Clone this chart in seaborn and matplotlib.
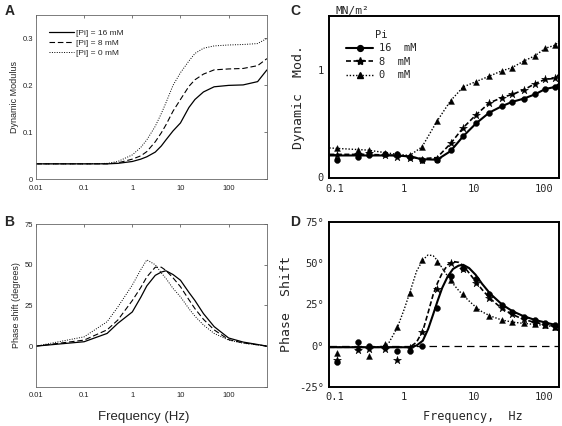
import numpy as np
import pandas as pd
import matplotlib
matplotlib.use('Agg')
import matplotlib.pyplot as plt
from matplotlib.lines import Line2D
from matplotlib.ticker import FixedLocator, LogLocator, NullFormatter, NullLocator
import seaborn as sns

sns.set_style('white')
plt.rcParams['font.family'] = ['Liberation Sans', 'DejaVu Sans']
MONO = 'DejaVu Sans Mono'

#%% datos, paneles A y B (modelo)
f_model = [0.01, 0.1, 0.3, 0.5, 1, 1.5, 2, 3, 4, 5, 7, 10, 15, 20, 30, 50, 100, 200, 400, 625]
mod_16 = [0.033, 0.033, 0.033, 0.034, 0.038, 0.043, 0.048, 0.058, 0.071, 0.084, 0.103, 0.12, 0.153, 0.17, 0.186,
          0.197, 0.2, 0.201, 0.208, 0.233]
mod_8 = [0.033, 0.033, 0.033, 0.035, 0.043, 0.05, 0.059, 0.08, 0.099, 0.116, 0.145, 0.17, 0.198, 0.212, 0.224,
         0.233, 0.235, 0.236, 0.242, 0.257]
mod_0 = [0.033, 0.033, 0.034, 0.038, 0.052, 0.068, 0.084, 0.113, 0.14, 0.163, 0.2, 0.227, 0.252, 0.268, 0.279,
         0.284, 0.286, 0.287, 0.289, 0.3]
ph_16 = [0, 2.7, 7.8, 14, 21, 30, 37, 43.5, 45.5, 46.3, 44, 40.5, 33, 28, 20, 12, 5, 2.5, 1, 0]
ph_8 = [0, 3.7, 10, 16, 28, 36, 42.5, 48.5, 48.5, 46.5, 42, 36.5, 28.5, 23, 16.5, 10, 4, 2, 0.8, 0]
ph_0 = [0, 5.7, 15, 24, 37.5, 47, 53, 50, 45, 41.6, 35.5, 30.3, 23, 18.4, 13, 7.8, 3.7, 1.8, 0.7, 0]

#%% datos, paneles C y D (experimento)
f_exp = [0.11, 0.22, 0.31, 0.53, 0.78, 1.2, 1.8, 2.95, 4.6, 7.0, 10.7, 16.5, 25, 35, 51, 74, 104, 145]
dm_16 = [0.16, 0.19, 0.2, 0.21, 0.21, 0.19, 0.16, 0.16, 0.25, 0.38, 0.5, 0.6, 0.66, 0.7, 0.73, 0.77, 0.82, 0.84]
dm_8 = [0.2, 0.21, 0.22, 0.2, 0.19, 0.18, 0.16, 0.17, 0.32, 0.46, 0.58, 0.69, 0.74, 0.77, 0.81, 0.87, 0.91, 0.92]
dm_0 = [0.27, 0.25, 0.25, 0.22, 0.21, 0.2, 0.28, 0.52, 0.71, 0.84, 0.89, 0.94, 0.99, 1.02, 1.08, 1.13, 1.2, 1.23]
ps_16 = [-10, 2, -0.5, -1, -3, -3, -0.5, 23, 42.5, 47, 40.5, 31, 24.5, 20.5, 17.5, 15.5, 13.8, 12.5]
ps_8 = [-9, -2.5, -2, -2, -9, -1.5, 8.5, 34.5, 50, 46.5, 38, 29, 23, 19, 16, 14, 12.5, 11.5]
ps_0 = [-4.5, -1, -6.5, 1, 11, 32, 52, 51, 40, 31, 22.6, 18, 15.4, 14.4, 13.6, 13, 12.3, 11.3]

# curvas ajustadas
f_cfit = [0.085, 0.3, 0.8, 1.2, 1.8, 2.95, 4.6, 7.0, 10.7, 16.5, 25, 35, 51, 74, 104, 145, 165]
cfit_16 = [0.2, 0.2, 0.2, 0.19, 0.165, 0.16, 0.24, 0.38, 0.5, 0.6, 0.66, 0.7, 0.73, 0.77, 0.82, 0.84, 0.87]
cfit_8 = [0.21, 0.21, 0.2, 0.19, 0.17, 0.18, 0.31, 0.46, 0.58, 0.69, 0.74, 0.77, 0.81, 0.87, 0.91, 0.92, 0.96]
cfit_0 = [0.27, 0.25, 0.21, 0.2, 0.28, 0.52, 0.71, 0.84, 0.89, 0.94, 0.99, 1.02, 1.08, 1.13, 1.2, 1.23, 1.27]

f_dfit = [0.085, 0.3, 0.5, 0.6, 0.8, 1.0, 1.2, 1.5, 1.85, 2.2, 2.6, 3.0, 3.5, 4.2, 5, 6, 7, 8.5, 10.5, 13, 17,
          25, 35, 50, 75, 105, 165]
dfit_16 = [-1, -1, -1, -1, -1, -1, -1, 0, 3, 10, 19, 27, 35, 42, 46.5, 48.5, 49, 47, 43, 37.5, 31.5,
           25, 21, 18, 15.5, 14, 12]
dfit_8 = [-1, -1, -1, -1, -1, -1, -1, 2, 9, 20, 31, 38, 44, 49, 51, 50.5, 48.5, 44, 39, 34, 28.5,
          22.5, 19, 16, 14, 12.8, 11]
dfit_0 = [-1, -1, -0.5, 1.5, 11, 22, 32, 45, 52, 55, 54.5, 51.5, 47, 42, 37.5, 33.5, 30.5, 27, 23.5, 20.5, 18,
          15.5, 14.3, 13.5, 12.8, 12.2, 11]

labels_ab = ['[Pi] = 16 mM', '[Pi] = 8 mM', '[Pi] = 0 mM']
labels_cd = ['16  mM', '8  mM', '0  mM']

#%%
fig = plt.figure(figsize=(5.62, 4.26), dpi=100)
axA = fig.add_axes([0.064, 0.579, 0.411, 0.386])
axB = fig.add_axes([0.064, 0.092, 0.411, 0.382])
axC = fig.add_axes([0.586, 0.581, 0.409, 0.381])
axD = fig.add_axes([0.586, 0.092, 0.409, 0.387])

ls_ab = ['-', (0, (5, 2.5)), (0, (1, 1.5))]
lw_ab = [0.9, 0.8, 0.7]

# Paneles A y B
for ax, series in [(axA, [mod_16, mod_8, mod_0]), (axB, [ph_16, ph_8, ph_0])]:
    ax.set_xscale('log')
    for vals, ls, lw, lab in zip(series, ls_ab, lw_ab, labels_ab):
        sns.lineplot(x=f_model, y=vals, ax=ax, color='k', linestyle=ls, lw=lw, label=lab)
    ax.set_xlim(0.01, 625)
    ax.xaxis.set_major_locator(FixedLocator([0.01, 0.1, 1, 10, 100]))
    ax.set_xticklabels(['0.01', '0.1', '1', '10', '100'])
    ax.xaxis.set_minor_locator(NullLocator())
    ax.tick_params(direction='in', labelsize=5.5, length=2.5, width=0.5, top=True, right=True,
                   colors='#444444', labelcolor='#222222', pad=2)
    ax.tick_params(axis='x', pad=4)
    for s in ax.spines.values():
        s.set_color('#666666')
        s.set_linewidth(0.6)

axA.set_ylim(0, 0.35)
axA.yaxis.set_major_locator(FixedLocator([0, 0.1, 0.2, 0.3]))
axA.set_yticklabels(['0', '0.1', '0.2', '0.3'])
axA.set_ylabel('Dynamic Modulus', fontsize=6.5, labelpad=3)
axA.legend(loc='upper left', bbox_to_anchor=(0.04, 0.94), frameon=False, fontsize=6,
           handlelength=3, handletextpad=0.2, labelspacing=0.25, borderpad=0)

axB.get_legend().remove()
axB.set_ylim(-25, 75)
axB.yaxis.set_major_locator(FixedLocator([-25, 0, 25, 50, 75]))
axB.set_yticklabels(['', '0', '25', '50', '75'])
axB.set_ylabel('Phase shift (degrees)', fontsize=6.5, labelpad=3)

# Paneles C y D
mk = ['o', '*', '^']
msz = [18, 36, 18]
ls_cd = ['-', (0, (3, 1.5)), (0, (1, 1.3))]
lw_cd = [1.5, 1.2, 1.0]

for ax in [axC, axD]:
    ax.set_xscale('log')

for fit, pts, m, s, ls, lw in zip([cfit_16, cfit_8, cfit_0], [dm_16, dm_8, dm_0], mk, msz, ls_cd, lw_cd):
    sns.lineplot(x=f_cfit, y=fit, ax=axC, color='k', linestyle=ls, lw=lw)
    sns.scatterplot(x=f_exp, y=pts, ax=axC, marker=m, s=s, color='k', edgecolor='k', linewidth=0.3, zorder=3)

axD.axhline(0, color='k', lw=0.9, linestyle=(0, (6, 4)))
for fit, pts, m, s, ls, lw in zip([dfit_16, dfit_8, dfit_0], [ps_16, ps_8, ps_0], mk, msz, ls_cd, lw_cd):
    sns.lineplot(x=f_dfit, y=fit, ax=axD, color='k', linestyle=ls, lw=lw)
    sns.scatterplot(x=f_exp, y=pts, ax=axD, marker=m, s=s, color='k', edgecolor='k', linewidth=0.3, zorder=3)

for ax in [axC, axD]:
    ax.set_xlim(0.085, 165)
    ax.xaxis.set_major_locator(FixedLocator([0.1, 1, 10, 100]))
    ax.set_xticklabels(['0.1', '1', '10', '100'], family=MONO)
    ax.xaxis.set_minor_locator(LogLocator(base=10, subs=np.arange(2, 10)))
    ax.xaxis.set_minor_formatter(NullFormatter())
    ax.tick_params(which='major', direction='in', labelsize=7.5, length=4, width=1.2, pad=4)
    ax.tick_params(which='minor', direction='in', length=2.5, width=0.8)
    for s in ax.spines.values():
        s.set_color('k')
        s.set_linewidth(1.4)
    for t in ax.get_yticklabels():
        t.set_family(MONO)

axC.set_ylim(-0.015, 1.5)
axC.yaxis.set_major_locator(FixedLocator([0, 0.5, 1]))
axC.set_yticklabels(['0', '', '1'], family=MONO)
axC.set_ylabel('Dynamic  Mod.', family=MONO, fontsize=9.5, labelpad=9)
handles = [Line2D([], [], color='k', marker=m, markersize=ms, linestyle=ls, lw=lw)
           for m, ms, ls, lw in zip(mk, [4.2, 6, 4.2], ls_cd, lw_cd)]
leg = axC.legend(handles, labels_cd, title='Pi', loc='upper left', bbox_to_anchor=(0.05, 0.95),
                 frameon=False, prop={'family': MONO, 'size': 7.5}, handlelength=2.6,
                 handletextpad=0.6, labelspacing=0.35, borderpad=0)
leg.get_title().set_family(MONO)
leg.get_title().set_fontsize(7.5)

axD.set_ylim(-25, 75)
axD.yaxis.set_major_locator(FixedLocator([-25, 0, 25, 50, 75]))
axD.set_yticklabels(['-25°', '0°', '25°', '50°', '75°'], family=MONO)
axD.set_ylabel('Phase  Shift', family=MONO, fontsize=9.5, labelpad=4)

# textos sueltos
fig.text(0.597, 0.985, 'MN/m²', family=MONO, fontsize=8, va='top')
fig.text(0.255, 0.006, 'Frequency (Hz)', fontsize=9.5, ha='center', va='bottom')
fig.text(0.842, 0.008, 'Frequency,  Hz', family=MONO, fontsize=8.5, ha='center', va='bottom')
for x, y, l in [(0.008, 0.99, 'A'), (0.008, 0.495, 'B'), (0.516, 0.99, 'C'), (0.516, 0.495, 'D')]:
    fig.text(x, y, l, fontsize=10, fontweight='bold', va='top')

fig.savefig('out.png', dpi=100)
